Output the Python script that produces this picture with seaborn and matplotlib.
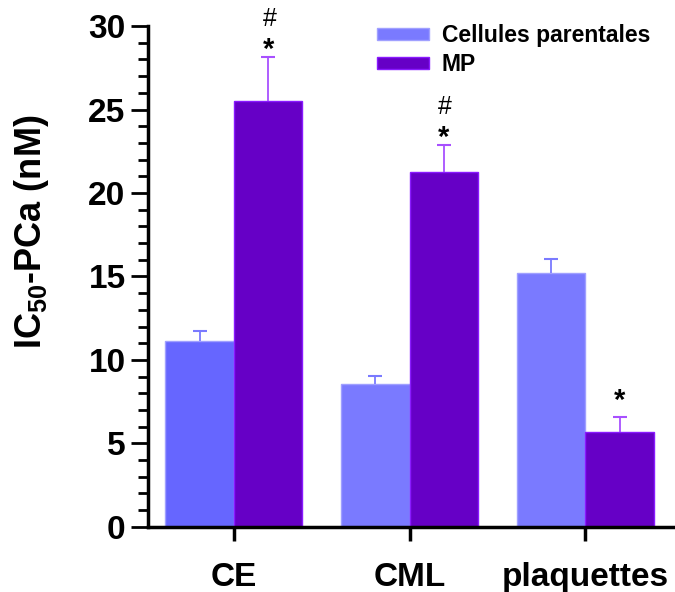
import matplotlib
matplotlib.use("Agg")
import matplotlib.pyplot as plt
import seaborn as sns
import pandas as pd
import numpy as np
from matplotlib.patches import Patch
from matplotlib.ticker import MultipleLocator

categories = ["CE", "CML", "plaquettes"]
series = ["Cellules parentales", "MP"]
parental = [11.15, 8.55, 15.2]
parental_err = [0.6, 0.5, 0.85]
mp = [25.5, 21.25, 5.7]
mp_err = [2.65, 1.6, 0.9]
stars = ["*", "*", "*"]
hashes = ["#", "#", ""]

# style: vertical offsets (points) of the star above each MP error cap
star_offsets = [-5, -5, 1]

sns.set_theme(style="ticks")
plt.rcParams['font.family'] = ['Liberation Sans', 'DejaVu Sans']
plt.rcParams['mathtext.fontset'] = 'custom'
plt.rcParams['mathtext.rm'] = 'Liberation Sans:bold'
plt.rcParams['mathtext.bf'] = 'Liberation Sans:bold'
plt.rcParams['text.color'] = 'black'
plt.rcParams['axes.labelcolor'] = 'black'
plt.rcParams['xtick.color'] = 'black'
plt.rcParams['ytick.color'] = 'black'
plt.rcParams['axes.edgecolor'] = 'black'

df = pd.DataFrame({
    "cat": categories * 2,
    "group": [series[0]] * 3 + [series[1]] * 3,
    "val": parental + mp,
})

fig = plt.figure(figsize=(6.75, 5.92), dpi=100)
ax = fig.add_axes([0.219, 0.11, 0.781, 0.846])

fill = {series[0]: "#7a7aff", series[1]: "#6600c6"}
edge = {series[0]: "#a0a0ff", series[1]: "#8a1aff"}
errc = {series[0]: "#7a7aff", series[1]: "#a850ff"}
capc = {series[0]: "#8a8aff", series[1]: "#8a1aff"}

sns.barplot(data=df, x="cat", y="val", hue="group", order=categories,
            hue_order=series, palette=fill, width=0.78, errorbar=None,
            ax=ax, legend=False, saturation=1)

conts = ax.containers
for s_i, (cont, vals, errs) in enumerate(zip(conts, [parental, mp], [parental_err, mp_err])):
    name = series[s_i]
    for j, bar in enumerate(cont):
        bar.set_edgecolor(edge[name])
        bar.set_linewidth(1.0)
        if s_i == 0 and j == 0:
            bar.set_facecolor("#6666ff")
        x = bar.get_x() + bar.get_width() / 2
        eb = ax.errorbar([x], [vals[j]], yerr=[[0], [errs[j]]], fmt="none",
                         ecolor=errc[name], elinewidth=1.3, capsize=5, capthick=1.5,
                         zorder=3)
        caps = eb[1]
        for cl in caps:
            cl.set_color(capc[name])
        if len(caps) == 2:
            caps[0].set_visible(False)
        if s_i == 1:
            top = vals[j] + errs[j]
            ax.annotate(stars[j], (x, top), xytext=(0, star_offsets[j]),
                        textcoords="offset points",
                        ha="center", va="bottom", fontsize=21, fontweight="bold")
            if hashes[j]:
                ax.annotate(hashes[j], (x, top), xytext=(1, 19), textcoords="offset points",
                            ha="center", va="bottom", fontsize=18)

ax.set_ylim(0, 30)
ax.set_xlim(-0.49, 2.51)
ax.yaxis.set_major_locator(MultipleLocator(5))
ax.yaxis.set_minor_locator(MultipleLocator(1))
ax.tick_params(axis="y", which="major", length=12, width=2, labelsize=24, pad=4)
ax.tick_params(axis="y", which="minor", length=7, width=2)
ax.tick_params(axis="x", which="major", length=10, width=2.5, labelsize=24, pad=15)
for lab in ax.get_xticklabels() + ax.get_yticklabels():
    lab.set_fontweight("bold")
ax.set_xlabel("")
ax.set_ylabel(r"IC$_{\mathbf{50}}$-PCa (nM)", fontsize=26, fontweight="bold")
ax.yaxis.set_label_coords(-0.183, 0.59)
for sp in ["top", "right"]:
    ax.spines[sp].set_visible(False)
for sp in ["left", "bottom"]:
    ax.spines[sp].set_linewidth(2.5)

handles = [Patch(facecolor=fill[s], edgecolor=edge[s]) for s in series]
leg = ax.legend(handles, series, loc="upper left", bbox_to_anchor=(0.395, 1.045),
                frameon=False, handlelength=2.3, handleheight=0.45,
                handletextpad=0.55, labelspacing=0.25,
                prop={"weight": "bold", "size": 16.5})

fig.savefig("out.png", dpi=100)
